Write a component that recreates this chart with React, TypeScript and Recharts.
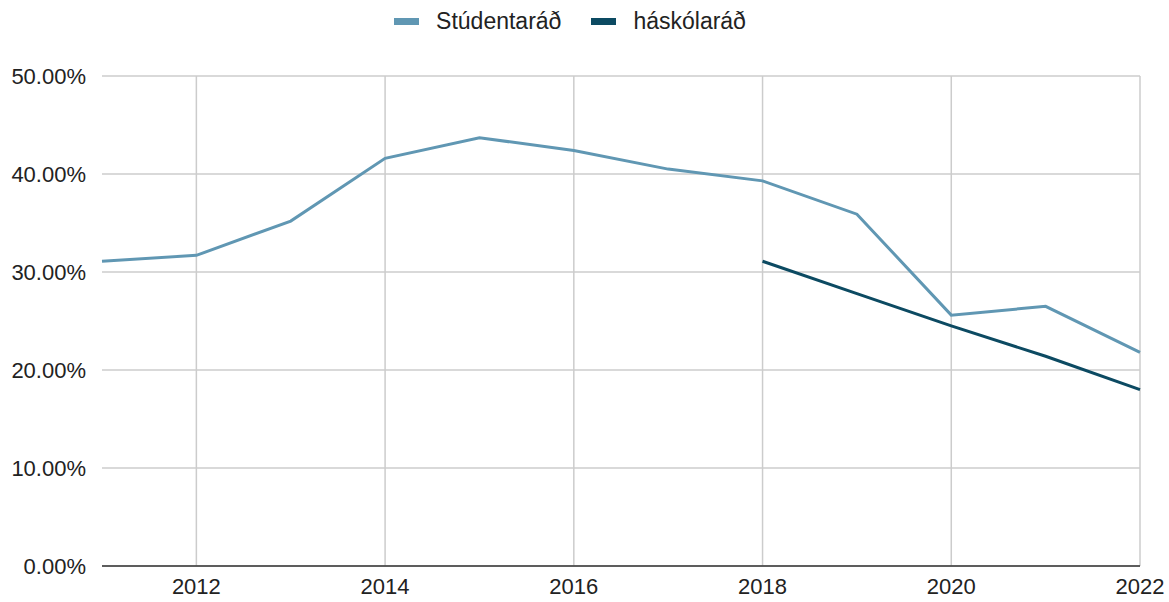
import { LineChart, Line, XAxis, YAxis, CartesianGrid, Legend, ReferenceLine } from 'recharts'

const years = [2011, 2012, 2013, 2014, 2015, 2016, 2017, 2018, 2019, 2020, 2021, 2022]
const studentarad = [0.311, 0.317, 0.352, 0.416, 0.437, 0.424, 0.405, 0.393, 0.359, 0.256, 0.265, 0.218]
const haskolarad = [null, null, null, null, null, null, null, 0.311, 0.278, 0.245, 0.214, 0.180]
const xTicks = [2012, 2014, 2016, 2018, 2020, 2022]
const yTicks = [0, 0.1, 0.2, 0.3, 0.4, 0.5]

const LIGHT = '#6097b3'
const DARK = '#0c4a62'
const FONT = '"Liberation Sans", Arial, sans-serif'

const data = years.map((y, i) => ({
  year: y,
  studentarad: studentarad[i],
  haskolarad: haskolarad[i],
}))

const legendItems = [
  { label: 'Stúdentaráð', color: LIGHT },
  { label: 'háskólaráð', color: DARK },
]

function ChartLegend() {
  return (
    <div style={{ display: 'flex', justifyContent: 'center', alignItems: 'center', fontFamily: FONT, fontSize: 23, color: '#222' }}>
      {legendItems.map((it) => (
        <div key={it.label} style={{ display: 'flex', alignItems: 'center', margin: '0 15px' }}>
          <span style={{ display: 'inline-block', width: 25, height: 7, background: it.color, marginRight: 17 }} />
          <span>{it.label}</span>
        </div>
      ))}
    </div>
  )
}

export default function App() {
  return (
    <div style={{ position: 'absolute', left: 0, top: 0, background: '#fff' }}>
      <LineChart width={1169} height={602} data={data} margin={{ top: 8, right: 29, bottom: 0, left: 0 }}>
        <CartesianGrid stroke="#cccccc" strokeWidth={1.5} vertical={false} />
        {xTicks.map((t) => (
          <ReferenceLine key={t} x={t} stroke="#cccccc" strokeWidth={1.5} />
        ))}
        <Legend verticalAlign="top" height={68} content={() => <ChartLegend />} />
        <XAxis
          dataKey="year"
          type="number"
          domain={[2011, 2022]}
          ticks={xTicks}
          tickLine={false}
          axisLine={{ stroke: '#333', strokeWidth: 1.5 }}
          tick={{ fill: '#222', fontSize: 22, fontFamily: FONT }}
          height={36}
          tickMargin={6}
        />
        <YAxis
          type="number"
          domain={[0, 0.5]}
          ticks={yTicks}
          tickFormatter={(v: number) => `${(v * 100).toFixed(2)}%`}
          axisLine={false}
          tickLine={false}
          tick={{ fill: '#222', fontSize: 22, fontFamily: FONT }}
          width={102}
          tickMargin={10}
        />
        <Line dataKey="studentarad" stroke={LIGHT} strokeWidth={3} dot={false} isAnimationActive={false} />
        <Line dataKey="haskolarad" stroke={DARK} strokeWidth={3} dot={false} connectNulls isAnimationActive={false} />
      </LineChart>
    </div>
  )
}
